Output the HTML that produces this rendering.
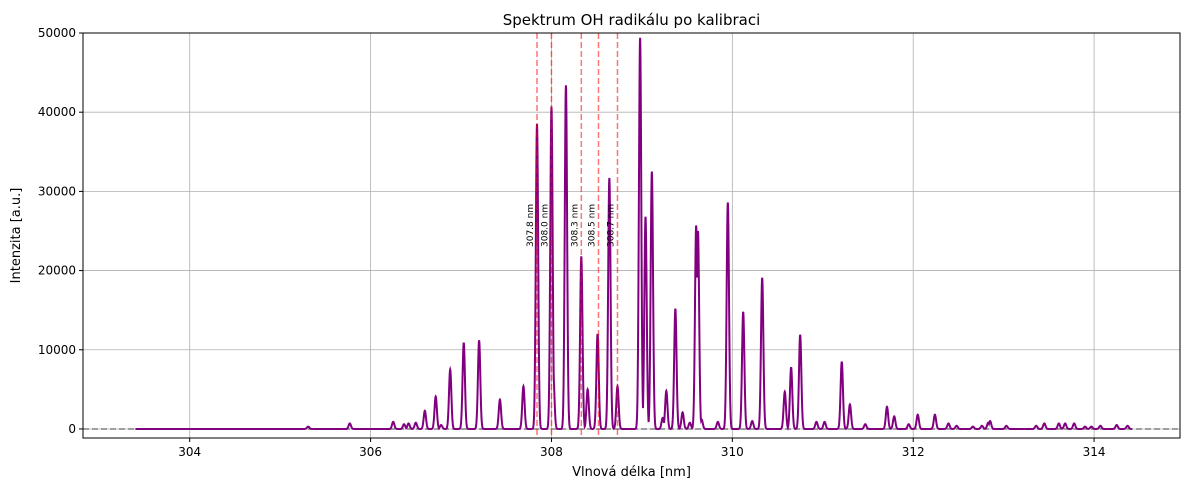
<!DOCTYPE html>
<html><head><meta charset="utf-8"><style>
body{margin:0;background:#fff;font-family:"Liberation Sans",sans-serif;}
svg text{font-family:"DejaVu Sans","Liberation Sans",sans-serif;}
</style></head><body>
<svg id="c" width="1190" height="490" xmlns="http://www.w3.org/2000/svg"></svg>
<script>
const peakWavelengths=[305.31,305.77,306.25,306.37,306.42,306.50,306.60,306.72,306.78,306.88,307.03,307.20,307.43,307.69,307.84,308.00,308.02,308.16,308.33,308.40,308.51,308.64,308.73,308.98,309.04,309.11,309.23,309.27,309.37,309.45,309.53,309.60,309.62,309.66,309.84,309.95,310.12,310.22,310.33,310.58,310.65,310.75,310.93,311.02,311.21,311.30,311.47,311.71,311.79,311.95,312.05,312.24,312.39,312.48,312.66,312.76,312.83,312.85,313.03,313.36,313.45,313.61,313.68,313.78,313.90,313.97,314.07,314.25,314.37];
const peakIntensities=[300,700,900,600,700,800,2300,4100,500,7500,10900,11200,3700,5400,38500,40700,6900,43400,21800,5000,12000,31700,5400,49400,26800,32500,1400,4800,15200,2100,800,25700,25000,1200,900,28600,14800,1000,19100,4700,7800,11900,900,900,8500,3100,600,2800,1600,600,1800,1800,700,400,300,400,800,1000,400,400,700,700,700,700,300,300,400,500,400];
const markerLines=[307.84,308.00,308.33,308.52,308.73];
const markerLabels=["307.8 nm","308.0 nm","308.3 nm","308.5 nm","308.7 nm"];
const xTicks=[304,306,308,310,312,314];
const yTicks=[0,10000,20000,30000,40000,50000];
const X0=83,X1=1180,Y0=33,Y1=438;
const xmin=302.82,xmax=314.95,ymin=-1140,ymax=50000;
const sx=v=>X0+(v-xmin)/(xmax-xmin)*(X1-X0);
const sy=v=>Y1-(v-ymin)/(ymax-ymin)*(Y1-Y0);
const svg=document.getElementById('c');const NS='http://www.w3.org/2000/svg';
function mk(t,a,p){const e=document.createElementNS(NS,t);for(const k in a)e.setAttribute(k,a[k]);(p||svg).appendChild(e);return e;}
let e;
e=mk('rect',{x:0,y:0,width:1190,height:490,fill:'#fff'});


xTicks.forEach(t=>{
 e=mk('line',{x1:sx(t),x2:sx(t),y1:Y0,y2:Y1,stroke:'#b0b0b0','stroke-width':0.8});
 
 
 mk('line',{x1:sx(t),x2:sx(t),y1:Y1,y2:Y1+4,stroke:'#000'});
 e=mk('text',{x:sx(t),y:Y1+18,'font-size':12,'text-anchor':'middle'});e.textContent=t;
 
 
});
yTicks.forEach(t=>{
 e=mk('line',{x1:X0,x2:X1,y1:sy(t),y2:sy(t),stroke:'#b0b0b0','stroke-width':0.8});
 
 
 mk('line',{x1:X0-4,x2:X0,y1:sy(t),y2:sy(t),stroke:'#000'});
 e=mk('text',{x:X0-7,y:sy(t)+4,'font-size':12,'text-anchor':'end'});e.textContent=t;
 
 
});
e=mk('line',{x1:X0,x2:X1,y1:sy(0),y2:sy(0),stroke:'#808080','stroke-width':1.5,'stroke-dasharray':'6,3'});


const sig=0.013;let d='';
for(let w=303.4;w<=314.42;w+=0.002){let v=0;for(let i=0;i<peakWavelengths.length;i++){const z=(w-peakWavelengths[i])/sig;if(Math.abs(z)<8)v=Math.max(v,peakIntensities[i]*Math.exp(-0.5*z*z));}
 d+=(d?'L':'M')+sx(w).toFixed(2)+','+sy(v).toFixed(2);}
e=mk('path',{d:d,fill:'none',stroke:'#800080','stroke-width':2});


markerLines.forEach((m,i)=>{
 e=mk('line',{x1:sx(m),x2:sx(m),y1:Y0,y2:Y1,stroke:'#ff0000','stroke-opacity':0.55,'stroke-width':1.5,'stroke-dasharray':'6,3'});
 
 
 const tx=sx(m)-4,ty=247;
 e=mk('text',{x:tx,y:ty,'font-size':9,transform:`rotate(-90 ${tx} ${ty})`});e.textContent=markerLabels[i];
 
 
});
e=mk('rect',{x:X0,y:Y0,width:X1-X0,height:Y1-Y0,fill:'none',stroke:'#000','stroke-width':1});


e=mk('text',{x:(X0+X1)/2,y:25,'font-size':15,'text-anchor':'middle'});e.textContent='Spektrum OH radikálu po kalibraci';


e=mk('text',{x:(X0+X1)/2,y:476,'font-size':13,'text-anchor':'middle'});e.textContent='Vlnová délka [nm]';


e=mk('text',{x:20,y:(Y0+Y1)/2,'font-size':13,'text-anchor':'middle',transform:`rotate(-90 20 ${(Y0+Y1)/2})`});e.textContent='Intenzita [a.u.]';


</script>
</body></html>
